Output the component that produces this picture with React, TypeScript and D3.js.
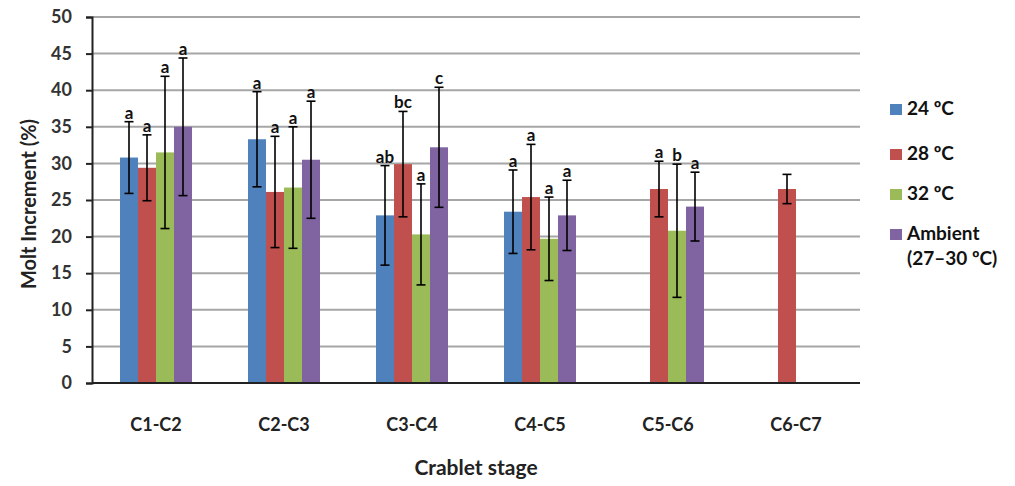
import { useEffect, useRef } from 'react'
import { select, scaleBand, scaleLinear, axisLeft, range } from 'd3'

const stages = ['C1-C2', 'C2-C3', 'C3-C4', 'C4-C5', 'C5-C6', 'C6-C7']
const seriesNames = ['24 ºC', '28 ºC', '32 ºC', 'Ambient']
const colors = ['#4F81BD', '#C0504D', '#9BBB59', '#8064A2']

// means (null = no data)
const temp24 = [30.8, 33.3, 22.9, 23.4, null, null]
const temp28 = [29.4, 26.1, 29.9, 25.4, 26.5, 26.5]
const temp32 = [31.5, 26.7, 20.3, 19.7, 20.8, null]
const ambient = [35.0, 30.5, 32.2, 22.9, 24.1, null]

// +/- error
const err24 = [4.9, 6.5, 6.8, 5.7, null, null]
const err28 = [4.5, 7.6, 7.2, 7.2, 3.8, 2.0]
const err32 = [10.4, 8.3, 6.9, 5.7, 9.1, null]
const errAmbient = [9.4, 8.0, 8.2, 4.8, 4.7, null]

// significance letters
const sig24 = ['a', 'a', 'ab', 'a', '', '']
const sig28 = ['a', 'a', 'bc', 'a', 'a', '']
const sig32 = ['a', 'a', 'a', 'a', 'b', '']
const sigAmbient = ['a', 'a', 'c', 'a', 'a', '']

const yTicks = [0, 5, 10, 15, 20, 25, 30, 35, 40, 45, 50]

const FONT = 'Lato, sans-serif'

export default function App() {
  const svgRef = useRef<SVGSVGElement | null>(null)

  useEffect(() => {
    const svg = select(svgRef.current)
    svg.selectAll('*').remove()

    const left = 92
    const right = 860
    const top = 17
    const bottom = 383

    const x = scaleBand().domain(stages).range([left, right]).paddingInner(0).paddingOuter(0)
    const groupW = 72
    const inner = scaleBand()
      .domain(range(4).map(String))
      .range([0, groupW])
      .padding(0)
    const y = scaleLinear().domain([0, 50]).range([bottom, top])

    // gridlines
    svg
      .append('g')
      .selectAll('line')
      .data(yTicks.filter((t) => t > 0))
      .join('line')
      .attr('x1', left)
      .attr('x2', right)
      .attr('y1', (d) => y(d))
      .attr('y2', (d) => y(d))
      .attr('stroke', '#a6a6a6')
      .attr('stroke-width', 2)

    const means = [temp24, temp28, temp32, ambient]
    const errs = [err24, err28, err32, errAmbient]
    const sigs = [sig24, sig28, sig32, sigAmbient]

    const rows: any[] = []
    stages.forEach((s, i) => {
      means.forEach((m, k) => {
        if (m[i] == null) return
        rows.push({ stage: s, k, v: m[i], e: errs[k][i], sig: sigs[k][i] })
      })
    })

    const bx = (d: any) => (x(d.stage) as number) + (x.bandwidth() - groupW) / 2 + (inner(String(d.k)) as number)
    const bw = inner.bandwidth()

    svg
      .append('g')
      .selectAll('rect')
      .data(rows)
      .join('rect')
      .attr('x', bx)
      .attr('width', bw)
      .attr('y', (d) => y(d.v))
      .attr('height', (d) => bottom - y(d.v))
      .attr('fill', (d) => colors[d.k])

    // error bars
    const eg = svg.append('g').attr('stroke', '#000').attr('stroke-width', 1.6)
    rows.forEach((d) => {
      const cx = bx(d) + bw / 2
      const y1 = y(d.v + d.e)
      const y2 = y(d.v - d.e)
      eg.append('line').attr('x1', cx).attr('x2', cx).attr('y1', y1).attr('y2', y2)
      eg.append('line').attr('x1', cx - 4.5).attr('x2', cx + 4.5).attr('y1', y1).attr('y2', y1)
      eg.append('line').attr('x1', cx - 4.5).attr('x2', cx + 4.5).attr('y1', y2).attr('y2', y2)
    })

    // letters
    svg
      .append('g')
      .selectAll('text')
      .data(rows.filter((d) => d.sig))
      .join('text')
      .attr('x', (d) => bx(d) + bw / 2)
      .attr('y', (d) => y(d.v + d.e) - 3)
      .attr('text-anchor', 'middle')
      .attr('font-family', FONT)
      .attr('font-weight', 700)
      .attr('font-size', 17)
      .attr('fill', '#111')
      .text((d) => d.sig)

    // y axis
    const yAxis = axisLeft(y).tickValues(yTicks).tickSize(6).tickPadding(14)
    const ya = svg.append('g').attr('transform', `translate(${left},0)`).call(yAxis as any)
    ya.select('.domain').attr('stroke', '#222').attr('stroke-width', 2)
    ya.selectAll('.tick line').attr('stroke', '#222').attr('stroke-width', 2)
    ya.selectAll('.tick text')
      .attr('font-family', FONT)
      .attr('font-weight', 700)
      .attr('font-size', 18)
      .attr('fill', '#333')

    // x axis line
    svg
      .append('line')
      .attr('x1', left)
      .attr('x2', right)
      .attr('y1', bottom)
      .attr('y2', bottom)
      .attr('stroke', '#222')
      .attr('stroke-width', 2)

    svg
      .append('g')
      .selectAll('text')
      .data(stages)
      .join('text')
      .attr('x', (d) => (x(d) as number) + x.bandwidth() / 2)
      .attr('y', 431)
      .attr('text-anchor', 'middle')
      .attr('font-family', FONT)
      .attr('font-weight', 700)
      .attr('font-size', 18)
      .attr('fill', '#222')
      .text((d) => d)

    svg
      .append('text')
      .attr('x', (left + right) / 2)
      .attr('y', 475)
      .attr('text-anchor', 'middle')
      .attr('font-family', FONT)
      .attr('font-weight', 700)
      .attr('font-size', 21)
      .attr('fill', '#222')
      .text('Crablet stage')

    svg
      .append('text')
      .attr('transform', 'translate(36,204) rotate(-90)')
      .attr('text-anchor', 'middle')
      .attr('font-family', FONT)
      .attr('font-weight', 700)
      .attr('font-size', 20)
      .attr('fill', '#222')
      .text('Molt Increment (%)')

    // legend
    const legY = [115, 160, 200, 240]
    const lg = svg.append('g')
    seriesNames.forEach((n, i) => {
      lg.append('rect')
        .attr('x', 890)
        .attr('y', legY[i] - 11)
        .attr('width', 12)
        .attr('height', 11)
        .attr('fill', colors[i])
      lg.append('text')
        .attr('x', 907)
        .attr('y', legY[i])
        .attr('font-family', FONT)
        .attr('font-weight', 700)
        .attr('font-size', 19)
        .attr('fill', '#111')
        .text(n)
    })
    lg.append('text')
      .attr('x', 907)
      .attr('y', 265)
      .attr('font-family', FONT)
      .attr('font-weight', 700)
      .attr('font-size', 19)
      .attr('fill', '#111')
      .text('(27–30 ºC)')
  }, [])

  return (
    <svg
      ref={svgRef}
      width={1015}
      height={486}
      style={{ position: 'absolute', left: 0, top: 0, background: '#fff' }}
    />
  )
}
